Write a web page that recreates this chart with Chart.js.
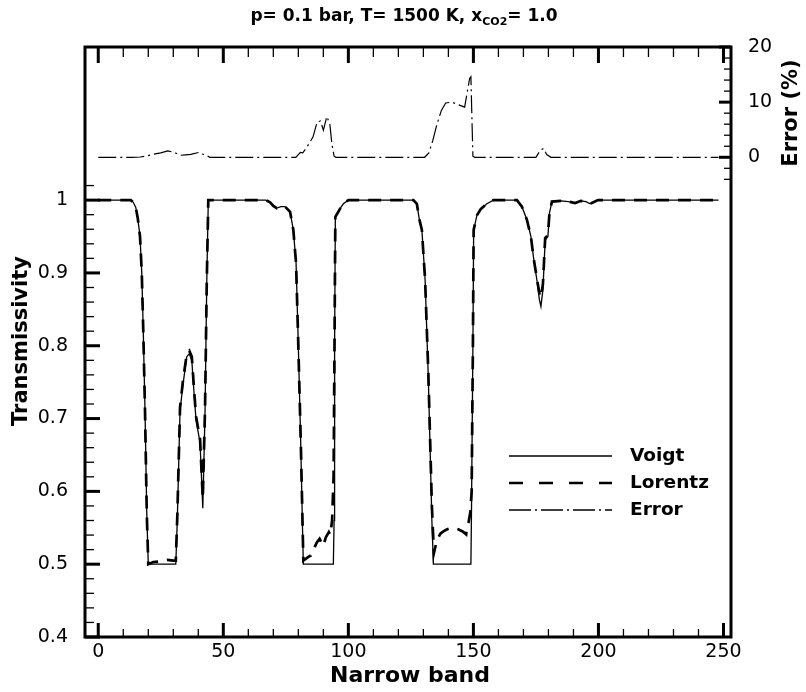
<!DOCTYPE html>
<html><head><meta charset="utf-8">
<script src="https://cdn.jsdelivr.net/npm/chart.js@4/dist/chart.umd.min.js"></script>
<style>html,body{margin:0;padding:0;background:#fff;}canvas{display:block;}</style>
</head><body>
<canvas id="c" width="806" height="692"></canvas>
<script>
// ---- data ----
const voigtX = [0,13,14,15,15.8,16.7,17.4,18,18.7,19.4,20,31,31.6,32.7,33.8,35.4,36.4,37.4,38.3,39.1,40.7,41.8,42.7,43.4,44,
  67,68.7,70,71.4,73,74.7,76.7,78,79.1,80,81,81.6,82,94,94.3,94.5,94.8,96,97,98,100,
  126,127.4,128.3,129.4,130.7,132,133.4,134,149,149.2,149.8,150.1,151.4,153,155.4,158,
  167.4,169.4,171.4,173,174,175.4,176.4,177,177.8,178.7,179.8,180.4,181.4,185,188,190.7,193,195,196.7,199.8,248];
const voigtT = [1,1,0.997,0.99,0.975,0.95,0.90,0.82,0.71,0.57,0.5,0.5,0.56,0.71,0.745,0.785,0.789,0.78,0.735,0.698,0.667,0.577,0.71,0.89,1,
  1,0.997,0.992,0.989,0.991,0.991,0.984,0.959,0.913,0.80,0.66,0.56,0.5,0.5,0.56,0.80,0.977,0.984,0.99,0.995,1,
  1,0.995,0.975,0.959,0.89,0.753,0.56,0.5,0.5,0.56,0.80,0.959,0.979,0.988,0.995,1,
  1,0.991,0.973,0.95,0.922,0.89,0.863,0.854,0.877,0.945,0.95,0.982,0.998,0.999,0.998,0.996,0.999,0.998,0.995,1,1];
const lorentzX = [0,13,14,15,15.8,16.7,17.4,18,18.7,19.4,20,22,25,27.5,30,31,31.6,32.7,33.8,35.4,36.4,37.4,38.3,39.1,40.7,41.8,42.7,43.4,44,
  67,68.7,70,71.4,73,74.7,76.7,78,79.1,80,81,81.6,82,84,85,87.4,88.5,90,91,92.2,92.8,93.5,94.1,94.5,94.8,96,97,98,100,
  126,127.4,128.3,129.4,130.7,132,133.4,134.2,135.4,136.8,138,139.5,141.4,143.9,145.7,147.1,147.5,148.1,148.8,149.3,149.8,150.1,151.4,153,155.4,158,
  167.4,169.4,171.4,173,174,175.4,176.4,177,177.8,178.7,179.8,180.4,181.4,185,188,190.7,193,195,196.7,199.8,248];
const lorentzT = [1,1,0.997,0.99,0.975,0.95,0.90,0.82,0.71,0.57,0.5,0.503,0.504,0.506,0.505,0.505,0.565,0.715,0.75,0.789,0.793,0.785,0.74,0.703,0.672,0.59,0.715,0.89,1,
  1,0.997,0.992,0.989,0.991,0.991,0.984,0.959,0.913,0.80,0.665,0.57,0.505,0.51,0.512,0.53,0.535,0.525,0.537,0.544,0.54,0.56,0.62,0.82,0.977,0.984,0.99,0.995,1,
  1,0.995,0.975,0.959,0.89,0.76,0.58,0.515,0.533,0.542,0.545,0.548,0.55,0.548,0.545,0.541,0.552,0.558,0.572,0.6,0.8,0.959,0.979,0.988,0.995,1,
  1,0.991,0.973,0.95,0.922,0.892,0.872,0.866,0.885,0.948,0.952,0.982,0.998,0.999,0.998,0.996,0.999,0.998,0.995,1,1];
const errorX = [0,13.5,16.8,19,21.9,25,27.8,30.3,32.8,35,37,40.4,41.5,42.9,44.6,79,80.8,81.8,83.3,85.9,87.5,88.9,90,91.4,92.6,93.4,94.3,95,
  130.5,132.2,133.8,135.5,137.2,138.9,141.4,143.9,146.5,147.3,148.5,149,149.5,149.8,150.5,175,176.8,178.1,179.3,181,248];
const errorPct = [0,0,0.05,0.2,0.54,0.8,1.15,0.9,0.36,0.45,0.54,0.9,0.6,0.42,0,0,0.9,0.8,1.75,3.7,6.4,6.6,4.9,7.4,6.0,2.5,0.2,0,
  0,0.8,3.1,6.1,8.5,9.85,10.0,9.55,9.1,11.2,14.3,14.6,5.5,0.2,0,0,1.3,1.6,0.5,0,0];
const seriesNames = ['Voigt','Lorentz','Error'];
const xTickValues = [0,50,100,150,200,250];
const leftTickValues = [0.4,0.5,0.6,0.7,0.8,0.9,1.0];
const rightTickValues = [0,10,20];
const titleMain = 'p= 0.1 bar, T= 1500 K, x';
const titleSub = 'CO2';
const titleEnd = '= 1.0';
const xTitle = 'Narrow band';
const yTitle = 'Transmissivity';
const y2Title = 'Error (%)';

const pts = (xs, ys) => xs.map((x, i) => ({x, y: ys[i]}));
const TICKFONT = {family: 'DejaVu Sans', size: 19};
const BOLD = '"DejaVu Sans"';

const decor = {
  id: 'decor',
  afterDraw(chart) {
    const ctx = chart.ctx, a = chart.chartArea;
    const sx = chart.scales.x, sy = chart.scales.y, s2 = chart.scales.y2;
    ctx.save();
    ctx.strokeStyle = '#000'; ctx.fillStyle = '#000'; ctx.lineCap = 'butt';
    const seg = (x1, y1, x2, y2, w) => { ctx.lineWidth = w; ctx.beginPath(); ctx.moveTo(x1, y1); ctx.lineTo(x2, y2); ctx.stroke(); };
    // x ticks (bottom & top, inward)
    for (let v = 0; v <= 250; v += 10) {
      const major = v % 50 === 0, px = sx.getPixelForValue(v);
      seg(px, a.bottom, px, a.bottom - (major ? 14 : 8), major ? 3 : 1.3);
      seg(px, a.top, px, a.top + (major ? 16 : 10), major ? 3 : 1.3);
    }
    // left ticks
    for (let i = 0; i <= 31; i++) {
      const v = 0.4 + i * 0.02, major = i % 5 === 0, py = sy.getPixelForValue(v);
      seg(a.left, py, a.left + (major ? 15 : 9), py, major ? 3 : 1.3);
    }
    // right ticks
    for (let v = -4; v <= 20; v += 2) {
      const major = v % 10 === 0, py = s2.getPixelForValue(v);
      seg(a.right, py, a.right - (major ? 12 : 7), py, major ? 3 : 1.3);
    }
    // frame
    ctx.lineWidth = 3;
    ctx.strokeRect(a.left, a.top, a.right - a.left, a.bottom - a.top);

    // axis titles
    ctx.textAlign = 'center'; ctx.textBaseline = 'middle';
    ctx.font = 'bold 22px ' + BOLD;
    ctx.fillText(xTitle, (a.left + a.right) / 2 + 2, 676);
    ctx.font = 'bold 21px ' + BOLD;
    ctx.save(); ctx.translate(22, 341); ctx.rotate(-Math.PI / 2); ctx.fillText(yTitle, 0, 0); ctx.restore();
    ctx.save(); ctx.translate(792, 113); ctx.rotate(-Math.PI / 2); ctx.fillText(y2Title, 0, 0); ctx.restore();

    // chart title with subscript
    ctx.textAlign = 'left'; ctx.textBaseline = 'alphabetic';
    const fMain = 'bold 17px ' + BOLD, fSub = 'bold 11px ' + BOLD;
    ctx.font = fMain; const w1 = ctx.measureText(titleMain).width, w3 = ctx.measureText(titleEnd).width;
    ctx.font = fSub; const w2 = ctx.measureText(titleSub).width;
    let tx = 404 - (w1 + w2 + w3) / 2; const ty = 21;
    ctx.font = fMain; ctx.fillText(titleMain, tx, ty); tx += w1;
    ctx.font = fSub; ctx.fillText(titleSub, tx, ty + 4); tx += w2;
    ctx.font = fMain; ctx.fillText(titleEnd, tx, ty);

    // legend
    const ds = chart.data.datasets;
    const rows = [456, 483, 510], dashes = [[], [14, 16], [22, 4, 2, 4]], widths = [1.3, 2.7, 1.3];
    ctx.font = 'bold 18.5px ' + BOLD; ctx.textBaseline = 'middle';
    rows.forEach((ry, i) => {
      ctx.setLineDash(dashes[i]); seg(509, ry, 612, ry, widths[i]); ctx.setLineDash([]);
      ctx.fillText(ds[i].label, 630, ry);
    });
    ctx.restore();
  }
};

new Chart(document.getElementById('c'), {
  type: 'line',
  data: {
    datasets: [
      {label: seriesNames[0], data: pts(voigtX, voigtT), yAxisID: 'y', borderColor: '#000', borderWidth: 1.3, pointRadius: 0, tension: 0, fill: false},
      {label: seriesNames[1], data: pts(lorentzX, lorentzT), yAxisID: 'y', borderColor: '#000', borderWidth: 2.7, borderDash: [13, 9], pointRadius: 0, tension: 0, fill: false},
      {label: seriesNames[2], data: pts(errorX, errorPct), yAxisID: 'y2', borderColor: '#000', borderWidth: 1.2, borderDash: [18, 4, 2, 4], pointRadius: 0, tension: 0, fill: false}
    ]
  },
  options: {
    responsive: false, animation: false, devicePixelRatio: 1,
    layout: {padding: {top: 47, left: 0, right: 0, bottom: 0}},
    plugins: {legend: {display: false}, title: {display: false}, tooltip: {enabled: false}},
    scales: {
      x: {
        type: 'linear', position: 'bottom', min: -5.3, max: 253,
        grid: {display: false}, border: {display: false},
        afterBuildTicks: s => { s.ticks = xTickValues.map(v => ({value: v})); },
        afterFit: s => { s.height = 55; },
        ticks: {font: TICKFONT, color: '#000', padding: -4, autoSkip: false, maxRotation: 0, callback: v => String(v)}
      },
      y: {
        type: 'linear', position: 'left', min: 0.4, max: 1.2103,
        grid: {display: false}, border: {display: false},
        afterBuildTicks: s => { s.ticks = leftTickValues.map(v => ({value: v})); },
        afterFit: s => { s.width = 85; },
        ticks: {font: TICKFONT, color: '#000', padding: 9, autoSkip: false, callback: v => (Math.abs(v - 1) < 1e-9 ? '1' : v.toFixed(1))}
      },
      y2: {
        type: 'linear', position: 'right', min: -87, max: 20,
        grid: {display: false}, border: {display: false},
        afterBuildTicks: s => { s.ticks = rightTickValues.map(v => ({value: v})); },
        afterFit: s => { s.width = 75; },
        ticks: {font: TICKFONT, color: '#000', padding: 9, autoSkip: false, callback: v => String(v)}
      }
    }
  },
  plugins: [decor]
});
</script>
</body></html>
